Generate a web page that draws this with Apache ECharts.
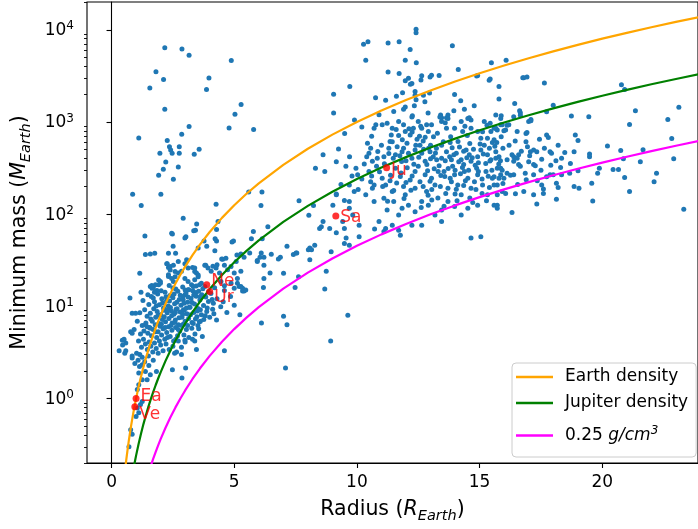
<!DOCTYPE html>
<html>
<head>
<meta charset="utf-8">
<script src="https://cdn.jsdelivr.net/npm/echarts@6/dist/echarts.min.js"></script>
<style>
  html, body { margin: 0; padding: 0; background: #fff; }
  #chart { width: 698px; height: 529px; }
</style>
</head>
<body>
<div id="chart"></div>
<script>
// Exoplanets: [radius (R_Earth), minimum mass (M_Earth)]

// Massive planets with small reported radii
const massiveCompact = [
  [2.17,6380],[2.87,6170],[3.16,5280],[4.88,4650],[1.81,3510],[2.12,2890],[3.97,2990],[1.56,2330],
  [3.87,2250],[5.28,1550],[2.17,1370],[5.03,1210],[3.16,890],[4.79,860],[5.79,830],[1.11,670],
  [2.86,735],[2.27,630],[2.36,540],[2.76,540],[2.41,497],[2.47,457],[1.97,457],[2.76,457],
  [3.57,505],[3.37,446],[2.21,368],[2.72,325],[2.11,307],[1.92,264],[2.52,239],[0.86,164],
  [2.01,164],[1.21,124],[4.26,128],[5.59,174],[6.13,174],[6.09,124],[7.64,140],[8.04,97],
  [8.23,124],[8.31,314],[2.92,90],[3.47,78],[4.34,83],[6.37,73]
];

// Super-Earths and sub-Neptunes
const smallPlanets = [
  [3.42,67],[3.35,66],[4.28,68],[2.48,61],[1.36,58],[3.03,57],[2.99,55],[4.91,50],[5.70,54],[6.14,54],
  [2.51,45],[3.88,45],[4.21,40],[1.38,36.5],[1.58,37],[1.76,37.7],[2.32,37.7],[2.61,37.7],[5.63,38],[6.10,38],
  [6.51,36.8],[6.88,34],[6.80,32.7],[7.15,45],[7.41,36.5],[7.52,38],[8.02,41],[2.27,29],[2.72,30.6],[3.06,32],
  [4.49,32.7],[4.66,33.3],[5.11,36],[5.08,30.6],[5.94,30.6],[6.05,34],[6.46,23],[7.01,22.9],[7.48,16],[1.15,22.9],
  [2.32,26.4],[2.39,24.8],[2.59,23.9],[3.30,26.4],[3.39,23.9],[3.53,21.9],[3.84,27.9],[4.13,27.3],[4.30,28.2],[1.99,18.6],
  [2.32,21.1],[1.64,16.8],[1.92,17.1],[1.85,14.9],[0.75,12.3],[0.84,8.4],[0.98,8.4],[3.12,15.1],[3.33,16.4],[3.59,17.1],
  [2.99,13.3],[2.92,11.8],[4.46,18.6],[4.60,16.7],[4.87,17.8],[5.00,15.7],[5.13,17.8],[5.34,14.7],[5.27,16.4],[4.17,8.3],
  [5.23,8.1],[3.62,6.9],[6.11,6.6],[7.01,7.8],[7.15,6.3],[1.38,6.3],[1.58,5.8],[1.79,5.3],[0.44,4.3],[0.58,4.0],
  [0.78,5.3],[0.84,5.1],[4.60,3.3],[3.39,4.2],[3.46,3.4],[2.72,4.2],[2.99,4.3],[0.31,3.3],[0.54,3.1],[0.84,2.9],
  [0.84,2.75],[1.14,2.23],[1.25,2.32],[1.52,2.29],[1.11,1.89],[1.38,1.97],[1.58,1.81],[1.25,1.6],[1.45,1.6],[1.83,1.97],
  [1.11,1.41],[1.05,1.25],[2.48,2.05],[3.02,2.14],[2.87,1.67],[2.57,3.1],[2.85,3.0],[7.09,2.14],[1.05,0.79],[1.11,0.70],
  [1.0,0.64],[0.78,0.46],[0.84,0.41],[0.71,0.30],[1.25,0.93],[1.18,0.86],
  [2.45,62],[5.78,65],[3.77,51],[4.28,51],[4.22,54],[4.97,51],[3.53,43],[4.53,32.5],[5.27,37],[5.4,34],
  [5.94,31.5],[6.21,34],[6.21,28],[2.25,29],[2.39,27],[2.52,28],[2.99,29],[3.12,26],[3.39,26],[3.46,23],
  [3.8,28],[3.93,26],[4.06,24],[4.26,26],[4.4,23],[4.6,28],[4.73,25],[4.87,27],[5.0,23],[5.13,20],
  [5.27,24],[5.2,16.4],[5.34,15.7],[5.4,14.7],[5.47,15],[6.19,16],[6.21,20],[1.92,19.3],[1.99,17.8],[1.79,17.1],
  [1.58,16.4],[1.65,15.7],[2.32,22],[2.45,20],[2.52,18.6],[2.59,21],[2.72,23],[2.85,24],[2.99,20],[3.12,18.6],
  [3.26,17.1],[3.39,19.4],[3.53,21],[3.66,17.8],[3.8,16.4],[0.51,4.4],[0.45,3.8],[0.58,3.3],
  [1.62,12.8],[1.75,11.2],[1.88,13.6],[1.95,10.4],[2.05,12.1],[2.12,9.6],[2.18,14.2],[2.24,11.5],[2.31,10.1],[2.38,13.1],
  [2.44,8.9],[2.5,12.4],[2.57,10.7],[2.63,9.3],[2.7,14.6],[2.76,11.9],[2.83,10.3],[2.9,12.8],[2.96,9.1],[3.03,13.9],
  [3.1,11.1],[3.17,9.8],[3.24,12.2],[3.31,14.8],[3.38,10.6],[3.45,12.9],[3.52,9.5],[3.6,11.7],[3.68,13.4],[3.75,10.2],
  [3.84,12.6],[3.95,11.3],[4.05,13.8],[4.15,10.8],[4.3,12.1],[4.45,9.9],[1.35,9.2],[1.45,7.8],[1.52,10.5],[1.58,8.4],
  [1.66,6.9],[1.72,9.4],[1.8,7.6],[1.86,8.8],[1.93,6.5],[2.0,8.1],[2.07,7.2],[2.14,9.1],[2.2,6.8],[2.27,8.5],
  [2.34,7.4],[2.4,9.7],[2.47,6.6],[2.54,8.2],[2.6,7.1],[2.67,9.4],[2.73,6.3],[2.8,8.7],[2.87,7.6],[2.93,9.2],
  [3.0,6.9],[3.07,8.3],[3.14,7.4],[3.2,9.8],[3.28,6.7],[3.35,8.6],[3.42,7.3],[3.5,8.9],[3.58,6.8],[3.66,8.1],
  [3.76,7.2],[3.88,8.8],[4.0,7.6],[4.12,9.3],[4.28,7.1],[1.25,6.2],[1.32,5.4],[1.4,6.6],[1.48,5.1],[1.55,5.9],
  [1.63,4.8],[1.7,5.6],[1.78,6.3],[1.84,4.6],[1.9,5.3],[1.98,6.1],[2.04,4.9],[2.1,5.7],[2.17,4.4],[2.25,5.2],
  [2.32,6.0],[2.39,4.7],[2.46,5.5],[2.53,4.2],[2.61,5.9],[2.69,4.8],[2.78,5.4],[2.86,6.2],[2.95,4.9],[3.05,5.6],
  [3.15,4.6],[3.27,5.8],[3.4,5.0],[3.55,5.7],[3.7,4.7],[1.1,4.2],[1.18,5.0],[1.22,3.6],[1.3,4.4],[1.38,3.9],
  [1.46,3.4],[1.53,4.1],[1.6,3.7],[1.68,3.2],[1.75,4.0],[1.82,3.5],[1.9,3.1],[2.0,3.8],[2.1,3.3],[2.22,3.9],
  [2.35,3.4],[2.5,3.7],[2.65,3.2],[2.85,3.6],[1.02,3.1],[1.08,2.6],[1.15,3.0],[1.25,2.8],[1.35,2.5],[1.5,2.9],
  [0.95,2.4],[1.7,2.6],[2.02,14.8],[1.7,15.9],[2.35,16.8],[2.62,15.4],[2.9,16.2],[3.15,15.1],[3.45,16.6],[3.72,15.5],
  [1.48,13.4],[1.28,11.6],[1.15,8.5],[1.05,6.9],[0.92,5.6],[1.2,14.2],[4.55,11.2],[4.7,8.6],[4.85,12.8],[4.6,14.9],
  [5.0,10.3],
  [2.08,10.9],[2.22,12.7],[2.36,11.4],[2.55,13.6],[2.66,11.1],[2.8,13.2],[2.95,10.8],[3.12,12.6],[3.28,11.0],[3.44,14.1],
  [3.62,12.8],[3.9,9.6],[4.1,11.9],[1.82,10.1],[1.7,12.3],[1.9,8.0],[2.15,7.7],[2.3,9.2],[2.45,7.9],[2.6,8.6],
  [2.75,7.5],[2.9,8.2],[3.05,9.6],[3.22,8.1],[3.48,7.7],[3.62,9.2],[3.82,7.9],[2.03,6.4],[2.18,5.9],[2.42,6.2],
  [2.58,6.7],[2.72,5.6],[2.92,6.4],[3.1,6.2],[3.33,6.5],[3.52,6.2],[1.6,7.3],[1.45,6.0],[1.95,4.2],[2.28,4.6],
  [2.62,4.4],[3.0,4.1],[3.3,4.4],[1.75,14.2],[2.5,15.8],[3.0,15.0],[3.35,13.3],[3.55,14.6],[3.95,14.3],[4.2,15.9]
];

// Saturn-sized planets between the two populations
const midPlanets = [
  [8.75,24],[8.69,15.4],[9.63,8],[8.93,4.2],[7.55,38],[8.08,32],[7.62,21],[8.08,43],[8.28,46],[8.15,41],
  [8.95,39],[9.49,48],[9.69,46],[10.09,57],[10.72,69],[11.1,65],[11.7,67],[11.77,59],[8.55,73],[8.89,70],
  [9.16,63],[9.49,70],[9.56,55],[10.09,76],[8.48,70],[8.62,83],[9.42,83],[9.69,137],[9.83,98],[10.9,83],
  [11.17,70],[11.44,76],[12.24,76],[12.64,76],[13.45,83],[14.65,55],[15.05,57],[8.62,440],[8.69,290],[9.16,370],
  [9.69,207],[9.89,176],[10.36,162],[10.63,191],[9.16,162],[9.02,125],[9.69,116],[9.16,165],[9.49,141]
];

// Gas giants
const giantPlanets = [
  [12.41,10100],[12.41,9300],[10.27,6980],[10.45,7400],[11.27,7200],[11.72,7400],[12.17,6100],[13.89,6700],
  [10.36,4680],[11.97,4680],[12.42,4400],[11.27,3480],[11.72,3350],[12.64,3180],[12.61,2850],[12.98,3080],
  [13.04,3220],[14.13,3710],[15.48,4400],[16.08,4680],[14.88,3160],[15.43,2920],[16.80,3010],[16.93,3080],
  [9.71,2420],[9.05,2000],[9.05,1250],[10.76,1830],[11.17,1720],[11.61,1900],[11.86,2080],[12.18,2560],
  [11.97,2800],[12.37,1950],[12.41,1740],[12.34,1500],[12.71,1950],[12.77,1660],[12.96,2060],[13.98,1990],
  [14.23,1700],[14.38,1370],[15.79,1770],[16.43,1590],[11.97,1450],[11.9,1370],[12.26,1170],[13.41,1190],
  [13.45,1110],[13.65,1110],[13.71,1190],[14.58,1110],[15.19,1010],[15.43,966],[15.88,1170],[16.12,920],
  [17.0,1010],[17.09,1060],[12.1,2970],[12.24,2620],[12.37,2140],[13.35,3200],[14.92,3200],[15.39,2840],
  [15.66,1190],[15.59,852],[12.24,1130],[14.65,1050],[15.79,2420],
  [10.77,930],[10.7,852],[11.03,930],[11.23,966],[11.44,852],[11.7,1010],[11.9,930],[11.97,790],[12.17,720],
  [12.3,852],[12.5,1010],[12.64,852],[12.84,930],[12.91,790],[13.04,930],[13.38,1130],[13.45,1010],[13.71,1090],
  [13.65,852],[13.98,852],[14.25,1010],[14.31,790],[14.52,1090],[14.65,852],[14.92,790],[15.05,664],[15.32,664],
  [15.46,790],[15.66,852],[15.86,930],
  [10.43,586],[10.56,517],[10.49,457],[10.63,375],[10.83,403],[11.1,420],[11.3,517],[11.44,610],[11.64,540],
  [11.57,440],[11.84,475],[12.04,586],[12.1,457],[12.24,403],[12.37,495],[12.57,560],[12.64,457],[12.78,375],
  [12.98,475],[13.11,420],[13.24,517],[13.45,560],[13.45,403],[13.65,475],[13.78,420],[13.85,390],[14.05,457],
  [14.18,535],[14.25,390],[14.45,495],[14.58,440],[14.65,375],[14.92,420],[15.05,495],[15.19,560],[15.32,440],
  [15.46,390],[15.66,475],[15.79,420],
  [9.96,314],[10.03,267],[10.49,290],[10.56,225],[10.7,207],[11.03,245],[11.17,207],[11.37,265],[11.44,176],
  [11.57,314],[11.77,256],[11.9,199],[11.97,162],[12.17,234],[12.37,290],[12.37,191],[12.57,225],[12.78,267],
  [12.84,176],[13.04,245],[13.18,207],[13.31,290],[13.58,256],[13.71,191],[13.85,225],[13.98,267],[14.11,207],
  [14.25,162],[14.38,290],[14.52,245],[14.65,191],[14.79,225],[14.92,267],[15.12,207],[15.26,290],[15.32,162],
  [15.52,245],[15.72,207],[15.86,267],[15.92,176],
  [10.7,137],[11.1,149],[11.23,111],[11.5,137],[11.7,98],[11.84,116],[12.1,125],[12.37,106],[12.64,137],
  [12.91,125],[13.18,98],[13.45,111],[13.71,137],[13.98,121],[14.25,98],[14.52,116],[14.92,125],[15.59,125],
  [15.72,116],
  [11.35,615],[11.82,372],[12.05,318],[12.45,650],[12.72,505],[12.88,295],[13.12,690],[13.35,335],[13.52,610],
  [13.9,330],[14.12,612],[14.35,345],[14.6,585],[14.82,340],[15.02,575],[15.25,355],[15.52,600],[15.78,350],
  [11.12,352],[11.62,218],[12.2,182],[12.52,415],[12.98,228],[13.25,388],[13.62,168],[13.88,525],[14.05,186],
  [14.42,230],[14.75,505],[15.1,168],[15.42,378],[10.92,288],[11.48,405],[12.32,348],[12.92,520],[13.42,262],
  [13.72,312],[14.22,275],[14.88,315],[15.35,258],[11.25,138],[11.92,148],[12.62,118],[13.05,142],[13.55,122],
  [14.08,140],[14.72,134],[15.28,140],[10.85,478],[11.7,712],[12.12,845],[12.78,682],[13.28,755],[13.82,692],
  [14.5,715],[15.12,785],[12.4,560],[13.0,400],[13.8,598],[14.48,408],[15.62,545],[11.0,560],[10.6,700],
  [10.9,1200],[11.5,1300],[12.9,1250],[13.95,1320],[14.78,1500],[10.2,240],[10.05,185],[10.4,420],[9.8,260],
  [9.55,330],[9.35,210],[9.25,510],[9.5,750],[9.7,420],[10.2,880],[9.9,1050],
  [11.4,720],[11.6,830],[11.85,640],[12.25,780],[12.55,700],[12.7,620],[13.0,560],[13.2,460],[13.6,380],
  [13.95,440],[14.15,370],[14.35,480],[14.7,410],[14.95,360],[15.15,450],[15.4,520],[15.7,600],[15.95,520],
  [11.3,455],[11.75,430],[12.0,380],[12.5,330],[12.85,345],[13.15,310],[13.55,290],[14.0,300],[14.3,320],
  [14.55,300],[14.95,290],[15.5,300],[15.85,380],[11.05,200],[11.35,230],[11.8,280],[12.25,260],[12.7,200],
  [13.05,185],[13.4,200],[13.8,245],[14.35,205],[14.85,185],[15.4,195],[15.95,215],[12.0,220],[12.9,160],
  [13.3,150],[14.0,165],[14.6,150],[15.1,240],[11.5,180],[10.8,330],[10.6,260],[10.3,350],[11.9,520],
  [12.6,900],[13.6,980],[14.4,900],[15.3,920],
  [16.76,3020],[17.64,2640],[20.78,2530],[20.91,2250],[16.63,1320],[16.66,1260],[17.73,1290],[18.0,1520],
  [18.74,1160],[19.45,1140],[21.35,1320],[21.11,940],[22.67,1060],[23.12,1440],[22.83,660],[22.91,400],
  [15.86,1090],[15.92,930],[15.72,820],[16.06,820],[16.19,930],[15.88,690],[15.59,640],[16.53,790],[16.89,750],
  [16.89,610],[17.09,1030],[17.44,650],[17.73,720],[17.8,680],[17.64,517],[17.87,475],[17.93,457],[17.33,475],
  [17.07,475],[17.04,430],[17.2,345],[17.27,335],[17.53,395],[17.0,370],[16.39,420],[16.12,390],[15.66,403],
  [15.59,255],[15.72,314],[19.01,630],[18.85,475],[18.47,465],[18.34,403],[18.11,380],[20.21,550],[20.75,490],
  [20.86,400],[19.48,450],[19.48,420],[19.88,314],[20.44,305],[20.66,305],[21.55,370],[17.73,255],[17.87,267],
  [18.0,267],[18.34,267],[18.67,277],[19.01,295],[17.2,267],[16.86,277],[16.66,330],[16.59,345],[16.39,267],
  [16.12,277],[15.92,300],[15.99,245],[15.79,245],[15.59,207],[17.53,207],[17.6,188],[18.13,216],[18.2,195],
  [18.85,199],[19.05,191],[19.57,216],[20.91,250],[21.11,176],[22.11,225],[22.21,277],[15.72,125],[16.32,104],
  [17.33,129],[18.13,145],[19.61,139],[17.6,168],[17.2,162],[16.8,176],[16.46,166],[16.06,168],[15.72,162],
  [23.32,113],[21.66,500],[19.81,277],[17.2,495],[16.93,770],[16.66,1180],[16.39,1140],[15.99,805],[16.59,440],
  [16.53,403],[16.32,440],[16.39,375],[15.86,314],[16.26,265],
  [16.2,560],[16.45,620],[16.7,480],[16.95,540],[16.55,210],[16.9,236],[17.35,230],[17.5,300],[17.9,340],
  [18.3,320],[18.7,355],[18.2,560],[18.9,720]
];

// Solar-system planets
const solarNames = ['Ea', 'Ve', 'Ne', 'Ur', 'Sa', 'Ju'];
const solarRadius = [1.0, 0.95, 3.88, 4.0, 9.14, 11.21];
const solarMass = [1.0, 0.815, 17.1, 14.5, 95.2, 317.8];

// Constant-density curves: mass for a given radius
const curveRadius = [0.5,0.55,0.6,0.65,0.7,0.75,0.8,0.85,0.9,0.95,1.0,1.1,1.2,1.3,1.4,1.5,1.6,1.7,1.8,1.9,
  2.0,2.2,2.4,2.6,2.8,3.0,3.3,3.6,4.0,4.5,5,5.5,6,7,8,9,10,11,12,13,14,15,16,17,18,19,20,21,22,23,24];
const earthDensityMass = [0.125,0.1664,0.216,0.2746,0.343,0.4219,0.512,0.6141,0.729,0.8574,1,1.331,1.728,2.197,
  2.744,3.375,4.096,4.913,5.832,6.859,8,10.648,13.824,17.576,21.952,27,35.94,46.66,64,91.13,125,166.4,216,343,
  512,729,1000,1331,1728,2197,2744,3375,4096,4913,5832,6859,8000,9261,10648,12167,13824];
const jupiterDensityMass = [0.0301,0.0400,0.0519,0.0660,0.0825,0.1015,0.1231,0.1477,0.1753,0.2062,0.2405,0.3201,
  0.4156,0.5284,0.6599,0.8117,0.9851,1.182,1.403,1.650,1.924,2.561,3.325,4.227,5.279,6.494,8.644,11.22,15.39,
  21.92,30.06,40.02,51.95,82.49,123.1,175.3,240.5,320.1,415.6,528.4,659.9,811.7,985.1,1182,1403,1650,1924,
  2227,2561,2926,3325];
const lowDensityMass = [0.00567,0.00754,0.00979,0.01245,0.01555,0.01913,0.02321,0.02784,0.03305,0.03887,0.04534,
  0.06035,0.07835,0.09961,0.1244,0.153,0.1857,0.2228,0.2644,0.311,0.3627,0.4828,0.6268,0.7969,0.9953,1.224,
  1.630,2.116,2.902,4.132,5.668,7.545,9.793,15.55,23.21,33.05,45.34,60.35,78.35,99.61,124.4,153.0,185.7,222.8,
  264.4,311.0,362.7,419.9,482.8,551.6,626.8];

const curveNames = ['Earth density', 'Jupiter density', '0.25 g/cm3'];

// Axis ticks
const xTicks = [0, 5, 10, 15, 20];
const yMajorTicks = [1, 10, 100, 1000, 10000];
const yMinorTicks = [];
for (let e = -1; e <= 4; e++) {
  for (let m = 2; m <= 9; m++) {
    const v = m * Math.pow(10, e);
    if (v >= 0.2 && v <= 20000) yMinorTicks.push(+v.toPrecision(3));
  }
}

const FONT = 'DejaVu Sans';
const INK = '#000';
const TICK_SIZE = 17;
const TITLE_SIZE = 20.5;

const exoplanets = [].concat(massiveCompact, smallPlanets, midPlanets, giantPlanets);
const pairs = (xs, ys) => xs.map((x, i) => [x, ys[i]]);

const labelOffsets = [[0, -2], [0, 8], [0, -3], [0, 6], [0, 1.5], [0, 2.5]];

const titleRich = {
  i: { fontSize: TITLE_SIZE, fontFamily: FONT, fontStyle: 'italic', color: INK },
  sub: { fontSize: 14.5, fontFamily: FONT, fontStyle: 'italic', color: INK, verticalAlign: 'bottom', padding: [0, 0, -4, 0] }
};

const chart = echarts.init(document.getElementById('chart'), null, { renderer: 'canvas' });

const lineSeries = (name, ys, color) => ({
  type: 'line',
  name: name,
  data: pairs(curveRadius, ys),
  showSymbol: false,
  symbol: 'none',
  clip: true,
  silent: true,
  lineStyle: { color: color, width: 2.2 },
  itemStyle: { color: color },
  z: 3
});

chart.setOption({
  animation: false,
  backgroundColor: '#fff',
  grid: {
    left: 87, right: -9, top: 2, bottom: 65.3,
    show: true, borderColor: INK, borderWidth: 1.1, backgroundColor: 'transparent'
  },
  xAxis: {
    type: 'value', min: -1, max: 23.9,
    axisLine: { show: true, lineStyle: { color: INK, width: 1.1 } },
    axisTick: { show: true, customValues: xTicks, length: 5, lineStyle: { color: INK, width: 1.1 } },
    axisLabel: { customValues: xTicks, fontSize: TICK_SIZE, fontFamily: FONT, color: INK, margin: 11 },
    splitLine: { show: false },
    name: 'Radius ({i|R}{sub|Earth})',
    nameLocation: 'middle',
    nameGap: 36,
    nameTextStyle: { fontSize: TITLE_SIZE, fontFamily: FONT, color: INK, rich: titleRich }
  },
  yAxis: [
    {
      type: 'log', logBase: 10, min: 0.2, max: 20000,
      axisLine: { show: true, lineStyle: { color: INK, width: 1.1 } },
      axisTick: { show: true, customValues: yMajorTicks, length: 5, lineStyle: { color: INK, width: 1.1 } },
      axisLabel: {
        customValues: yMajorTicks,
        margin: 13,
        formatter: v => '{b|10}{s|' + Math.round(Math.log10(v)) + '}',
        rich: {
          b: { fontSize: TICK_SIZE, fontFamily: FONT, color: INK, padding: [2, 0, 0, 0] },
          s: { fontSize: 12, fontFamily: FONT, color: INK, verticalAlign: 'top' }
        }
      },
      splitLine: { show: false },
      name: 'Minimum mass ({i|M}{sub|Earth})',
      nameLocation: 'middle',
      nameGap: 51,
      nameTextStyle: { fontSize: TITLE_SIZE, fontFamily: FONT, color: INK, rich: titleRich }
    },
    {
      type: 'log', logBase: 10, min: 0.2, max: 20000,
      position: 'left',
      axisLine: { show: false },
      axisTick: { show: true, customValues: yMinorTicks, length: 3, lineStyle: { color: INK, width: 0.9 } },
      axisLabel: { show: false },
      splitLine: { show: false }
    }
  ],
  legend: {
    data: curveNames,
    orient: 'vertical',
    left: 512, top: 363,
    icon: 'rect',
    itemWidth: 37, itemHeight: 2.5,
    itemGap: 6,
    padding: [4, 8, 5, 4],
    backgroundColor: 'rgba(255,255,255,0.8)',
    borderColor: '#cccccc', borderWidth: 1, borderRadius: 4,
    formatter: name => name === curveNames[2] ? '{n|0.25 }{i|g/cm}{s|3}' : name,
    textStyle: {
      fontSize: TICK_SIZE, fontFamily: FONT, color: INK, padding: [0, 0, 0, 7], lineHeight: 20,
      rich: {
        n: { fontSize: TICK_SIZE, fontFamily: FONT, color: INK, lineHeight: 33 },
        i: { fontSize: TICK_SIZE, fontFamily: FONT, fontStyle: 'italic', color: INK, lineHeight: 33 },
        s: { fontSize: 12, fontFamily: FONT, fontStyle: 'italic', color: INK, padding: [0, 0, 10, 0], lineHeight: 33 }
      }
    }
  },
  series: [
    {
      type: 'scatter',
      name: 'Exoplanets',
      data: exoplanets,
      symbolSize: 5,
      silent: true,
      itemStyle: { color: '#1f77b4', opacity: 1 },
      z: 2
    },
    lineSeries(curveNames[0], earthDensityMass, '#ffa500'),
    lineSeries(curveNames[1], jupiterDensityMass, '#008000'),
    lineSeries(curveNames[2], lowDensityMass, '#ff00ff'),
    {
      type: 'scatter',
      name: 'Solar system',
      data: solarNames.map((n, i) => ({
        name: n,
        value: [solarRadius[i], solarMass[i]],
        label: { offset: labelOffsets[i] }
      })),
      symbolSize: 7,
      silent: true,
      itemStyle: { color: '#ff0000' },
      label: {
        show: true, position: 'right', distance: 1,
        formatter: p => p.name,
        fontSize: TICK_SIZE, fontFamily: FONT, color: '#ff0000'
      },
      z: 4
    }
  ]
});
</script>
</body>
</html>
